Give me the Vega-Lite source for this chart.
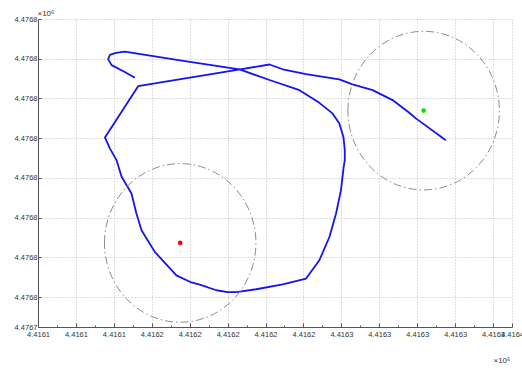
{
  "$schema": "https://vega.github.io/schema/vega-lite/v6.json",
  "width": 474,
  "height": 308,
  "autosize": {"type": "none"},
  "padding": {"left": 38, "top": 19, "right": 10, "bottom": 42},
  "background": "white",
  "config": {"view": {"stroke": null}, "font": "Liberation Sans"},
  "datasets": {
    "track": [
      {"i": 1, "x": 441615.11, "y": 4476761.04},
      {"i": 2, "x": 441614.53, "y": 4476761.36},
      {"i": 3, "x": 441613.88, "y": 4476761.68},
      {"i": 4, "x": 441613.70, "y": 4476761.98},
      {"i": 5, "x": 441613.79, "y": 4476762.19},
      {"i": 6, "x": 441614.11, "y": 4476762.29},
      {"i": 7, "x": 441614.58, "y": 4476762.36},
      {"i": 8, "x": 441617.58, "y": 4476761.90},
      {"i": 9, "x": 441620.63, "y": 4476761.46},
      {"i": 10, "x": 441622.21, "y": 4476760.93},
      {"i": 11, "x": 441623.79, "y": 4476760.42},
      {"i": 12, "x": 441624.84, "y": 4476759.78},
      {"i": 13, "x": 441625.53, "y": 4476759.25},
      {"i": 14, "x": 441625.89, "y": 4476758.75},
      {"i": 15, "x": 441626.11, "y": 4476758.06},
      {"i": 16, "x": 441626.18, "y": 4476757.40},
      {"i": 17, "x": 441626.18, "y": 4476756.90},
      {"i": 18, "x": 441626.12, "y": 4476756.54},
      {"i": 19, "x": 441625.98, "y": 4476755.39},
      {"i": 20, "x": 441625.72, "y": 4476754.21},
      {"i": 21, "x": 441625.37, "y": 4476753.03},
      {"i": 22, "x": 441624.84, "y": 4476751.86},
      {"i": 23, "x": 441624.14, "y": 4476750.94},
      {"i": 24, "x": 441622.91, "y": 4476750.65},
      {"i": 25, "x": 441621.51, "y": 4476750.40},
      {"i": 26, "x": 441620.46, "y": 4476750.26},
      {"i": 27, "x": 441620.00, "y": 4476750.26},
      {"i": 28, "x": 441619.41, "y": 4476750.35},
      {"i": 29, "x": 441618.53, "y": 4476750.63},
      {"i": 30, "x": 441618.09, "y": 4476750.74},
      {"i": 31, "x": 441617.30, "y": 4476751.10},
      {"i": 32, "x": 441616.16, "y": 4476752.28},
      {"i": 33, "x": 441615.46, "y": 4476753.37},
      {"i": 34, "x": 441615.19, "y": 4476754.21},
      {"i": 35, "x": 441614.93, "y": 4476755.22},
      {"i": 36, "x": 441614.41, "y": 4476756.06},
      {"i": 37, "x": 441614.14, "y": 4476756.90},
      {"i": 38, "x": 441613.79, "y": 4476757.49},
      {"i": 39, "x": 441613.53, "y": 4476758.04},
      {"i": 40, "x": 441615.28, "y": 4476760.62},
      {"i": 41, "x": 441620.74, "y": 4476761.48},
      {"i": 42, "x": 441622.21, "y": 4476761.71},
      {"i": 43, "x": 441622.91, "y": 4476761.47},
      {"i": 44, "x": 441624.14, "y": 4476761.23},
      {"i": 45, "x": 441625.89, "y": 4476760.96},
      {"i": 46, "x": 441626.59, "y": 4476760.71},
      {"i": 47, "x": 441627.65, "y": 4476760.42},
      {"i": 48, "x": 441628.70, "y": 4476759.92},
      {"i": 49, "x": 441629.58, "y": 4476759.28},
      {"i": 50, "x": 441629.93, "y": 4476759.00},
      {"i": 51, "x": 441631.51, "y": 4476757.90}
    ],
    "centers": [
      {"name": "red", "x": 441617.5, "y": 4476752.73},
      {"name": "green", "x": 441630.34, "y": 4476759.39}
    ]
  },
  "layer": [
    {
      "data": {"name": "track"},
      "mark": {"type": "line", "color": "#1414f0", "strokeWidth": 1.8, "strokeJoin": "round"},
      "encoding": {
        "x": {
          "field": "x", "type": "quantitative",
          "scale": {"domain": [441610, 441635], "nice": false, "zero": false},
          "axis": {
            "values": [441610,441611,441612,441613,441614,441615,441616,441617,441618,441619,441620,441621,441622,441623,441624,441625,441626,441627,441628,441629,441630,441631,441632,441633,441634,441635],
            "tickCount": 200,
            "labelExpr": "(datum.value % 2 == 1 && datum.value < 441634) ? '' : (datum.value < 441615 ? '4.4161' : (datum.value < 441625 ? '4.4162' : (datum.value < 441635 ? '4.4163' : '4.4164')))",
            "grid": true,
            "gridColor": "#bdbdbd",
            "gridDash": [1, 2],
            "gridOpacity": {"condition": {"test": "datum.value % 2 == 1 && datum.value < 441634", "value": 0}, "value": 1},
            "tickSize": {"condition": {"test": "datum.value % 2 == 1 && datum.value < 441634", "value": -2}, "value": -4},
            "tickColor": "#555555",
            "domainColor": "#555555",
            "labelFontSize": 7.5,
            "labelColor": "#333333",
            "labelPadding": 7,
            "labelOverlap": false,
            "labelFlush": false,
            "labelBound": false,
            "title": "×10⁵",
            "titleX": 455,
            "titleY": 35,
            "titleAlign": "left",
            "titleBaseline": "alphabetic",
            "titleFontSize": 8,
            "titleFontWeight": "normal",
            "titleColor": "#333333"
          }
        },
        "y": {
          "field": "y", "type": "quantitative",
          "scale": {"domain": [4476748.5, 4476764], "nice": false, "zero": false},
          "axis": {
            "values": [4476748.5,4476750,4476752,4476754,4476756,4476758,4476760,4476762,4476764],
            "tickCount": 200,
            "labelExpr": "datum.value < 4476749 ? '4.4767' : '4.4768'",
            "grid": true,
            "gridColor": "#bdbdbd",
            "gridDash": [1, 2],
            "tickSize": -3,
            "tickColor": "#555555",
            "domainColor": "#555555",
            "labelFontSize": 7.5,
            "labelColor": "#333333",
            "labelPadding": 4,
            "labelOverlap": false,
            "labelFlush": false,
            "labelBound": false,
            "title": "×10⁶",
            "titleAngle": 0,
            "titleX": -1,
            "titleY": -4,
            "titleAlign": "left",
            "titleBaseline": "alphabetic",
            "titleFontSize": 8,
            "titleFontWeight": "normal",
            "titleColor": "#333333"
          }
        },
        "order": {"field": "i", "type": "quantitative"}
      }
    },
    {
      "data": {"name": "centers"},
      "mark": {"type": "point", "shape": "M-0.955,0A0.955,1,0,1,1,0.955,0A0.955,1,0,1,1,-0.955,0Z", "size": 25150, "filled": false, "fill": null, "stroke": "#8c8c8c", "strokeWidth": 1, "strokeDash": [8, 3, 1.5, 3], "opacity": 1},
      "encoding": {
        "x": {"field": "x", "type": "quantitative"},
        "y": {"field": "y", "type": "quantitative"}
      }
    },
    {
      "data": {"name": "centers"},
      "mark": {"type": "point", "shape": "circle", "filled": true, "size": 22, "opacity": 1},
      "encoding": {
        "x": {"field": "x", "type": "quantitative"},
        "y": {"field": "y", "type": "quantitative"},
        "color": {"field": "name", "type": "nominal", "scale": {"domain": ["red", "green"], "range": ["#ff0000", "#00e600"]}, "legend": null}
      }
    }
  ]
}
